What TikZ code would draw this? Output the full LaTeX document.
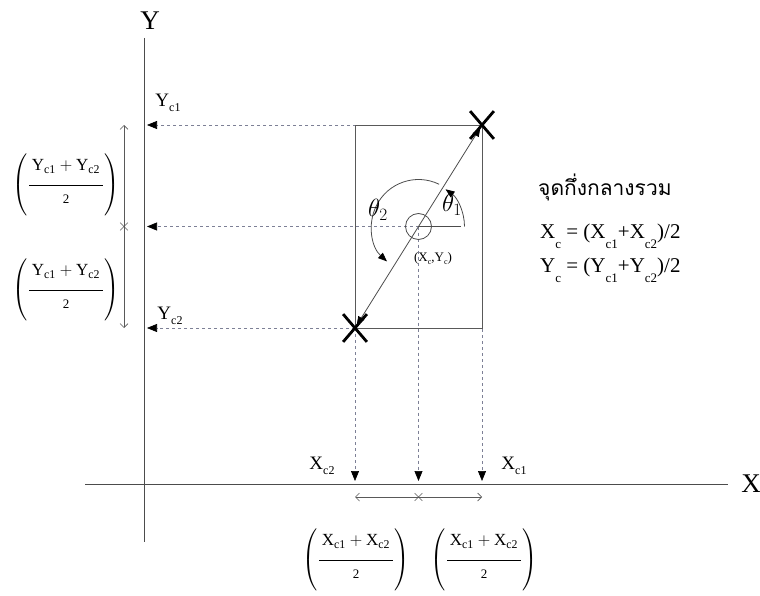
\documentclass[tikz,border=0pt]{standalone}
\usepackage{fontspec}
\usepackage{amsmath}
\setmainfont{Liberation Serif}
\newfontfamily\thaifont[Script=Thai]{Loma}
\usetikzlibrary{arrows.meta,shapes.misc}
\definecolor{guidec}{RGB}{125,128,150}
\newcommand\lsub[3]{#1\raisebox{#3}{\fontsize{12}{12}\selectfont #2}}
\newcommand\halffrac[1]{$\left(\dfrac{\rule[-12pt]{0pt}{30pt}\,\text{#1}_{\text{c1}}+\text{#1}_{\text{c2}}\,}{\rule[-14pt]{0pt}{30pt}\text{\fontsize{13}{13}\selectfont 2}}\right)$}
\begin{document}
\begin{tikzpicture}[x=1pt,y=-1pt,
  axis/.style={draw=black!70, line width=0.9pt},
  guide/.style={draw=guidec, line width=0.7pt, dash pattern=on 3pt off 3pt},
  tri/.style={-{Triangle[length=10pt,width=8pt,color=black]}},
  xmark/.style={cross out, draw=black, line width=2.8pt, minimum width=21pt, minimum height=25pt, inner sep=0pt},
  smallx/.style={cross out, draw=black!65, line width=0.6pt, minimum size=7pt, inner sep=0pt},
  span/.style={draw=black!65, line width=0.7pt, {Straight Barb[length=4pt,width=8pt]}-{Straight Barb[length=4pt,width=8pt]}},
  rect/.style={draw=black!65, line width=0.8pt},
  lbl/.style={inner sep=0pt}
]
\useasboundingbox (0,0) rectangle (760,596);
% axes
\coordinate (ytop) at (144,38); \coordinate (ybot) at (144,542);
\coordinate (xl) at (85,484); \coordinate (xr) at (728,484);
\draw[axis] (ytop) -- (ybot);
\draw[axis] (xl) -- (xr);
\node[lbl,font=\fontsize{27}{27}\selectfont] (ylab) at (150,21) {Y};
\node[lbl,font=\fontsize{27}{27}\selectfont] (xlab) at (751,484) {X};
% rectangle corners
\coordinate (rtl) at (355,125); \coordinate (p1) at (482,125);
\coordinate (p2) at (355,328); \coordinate (rbr) at (482,328);
\coordinate (c) at (418.5,226.5);
% projection targets
\coordinate (ya) at (147,125); \coordinate (ym) at (147,226.5); \coordinate (yb) at (147,328);
\coordinate (xa) at (355,481); \coordinate (xm) at (418.5,481); \coordinate (xb) at (482,481);
\draw[guide,tri] (p1) -- (ya);
\draw[guide,tri] (c) -- (ym);
\draw[guide,tri] (p2) -- (yb);
\draw[guide,tri] (p2) -- (xa);
\draw[guide,tri] (c) -- (xm);
\draw[guide,tri] (p1) -- (xb);
\draw[rect] (rtl) rectangle (rbr);
% diagonal
\draw[black!70, line width=0.8pt, {Triangle[length=9pt,width=7pt,color=black]}-{Triangle[length=9pt,width=7pt,color=black]}, shorten <=3pt, shorten >=3pt] (p2) -- (p1);
\node[xmark] (m1) at (p1) {};
\node[xmark] (m2) at (p2) {};
% center circle and angles
\draw[black!70, line width=0.8pt] (c) circle[radius=13pt];
\draw[black!70, line width=0.8pt] (c) -- ++(42pt,0pt);
\draw[black!70, line width=0.8pt, -{Triangle[length=9pt,width=7pt,color=black]}] (c) ++(46pt,0pt) arc[start angle=0,end angle=54,radius=46pt];
\draw[black!70, line width=0.8pt, -{Triangle[length=9pt,width=7pt,color=black]}] (c) ++(64:47pt) arc[start angle=64,end angle=228,radius=47pt];
\node[lbl,font=\fontsize{26}{26}\selectfont] (t1) at (452,205) {$\theta_1$};
\node[lbl,font=\fontsize{26}{26}\selectfont] (t2) at (378,210) {$\theta_2$};
\node[lbl,font=\fontsize{13}{13}\selectfont] (cl) at (433,259) {(X\raisebox{-3pt}{\fontsize{8}{8}\selectfont c},Y\raisebox{-3pt}{\fontsize{8}{8}\selectfont c})};
% axis labels
\node[lbl,font=\fontsize{19}{19}\selectfont] (yc1) at (168,103) {\lsub{Y}{c1}{-5pt}};
\node[lbl,font=\fontsize{19}{19}\selectfont] (yc2) at (170,316) {\lsub{Y}{c2}{-5pt}};
\node[lbl,font=\fontsize{19}{19}\selectfont] (xc2) at (322,466) {\lsub{X}{c2}{-5pt}};
\node[lbl,font=\fontsize{19}{19}\selectfont] (xc1) at (514,466) {\lsub{X}{c1}{-5pt}};
% span arrows
\coordinate (sa) at (124,125); \coordinate (sb) at (124,328); \coordinate (sm) at (124,226.5);
\draw[span] (sa) -- (sb);
\node[smallx] (sx) at (sm) {};
\coordinate (ta) at (355,497); \coordinate (tb) at (482,497); \coordinate (tm) at (418.5,497);
\draw[span] (ta) -- (tb);
\node[smallx] (tx) at (tm) {};
% fractions
\node[lbl,font=\fontsize{17}{20}\selectfont] (f1) at (66,185) {\halffrac{Y}};
\node[lbl,font=\fontsize{17}{20}\selectfont] (f2) at (66,290) {\halffrac{Y}};
\node[lbl,font=\fontsize{17}{20}\selectfont] (f3) at (356,560) {\halffrac{X}};
\node[lbl,font=\fontsize{17}{20}\selectfont] (f4) at (484,560) {\halffrac{X}};
% right text
\node[lbl,anchor=west,font=\fontsize{21}{21}\selectfont\thaifont] (th) at (538,187) {จุดกึ่งกลางรวม};
\node[lbl,anchor=base west,font=\fontsize{21}{21}\selectfont] (ex) at (540,238) {X\raisebox{-10pt}{\fontsize{13}{13}\selectfont c} = (X\raisebox{-10pt}{\fontsize{13}{13}\selectfont c1}+X\raisebox{-10pt}{\fontsize{13}{13}\selectfont c2})/2};
\node[lbl,anchor=base west,font=\fontsize{21}{21}\selectfont] (ey) at (540,272) {Y\raisebox{-10pt}{\fontsize{13}{13}\selectfont c} = (Y\raisebox{-10pt}{\fontsize{13}{13}\selectfont c1}+Y\raisebox{-10pt}{\fontsize{13}{13}\selectfont c2})/2};
\end{tikzpicture}
\end{document}
